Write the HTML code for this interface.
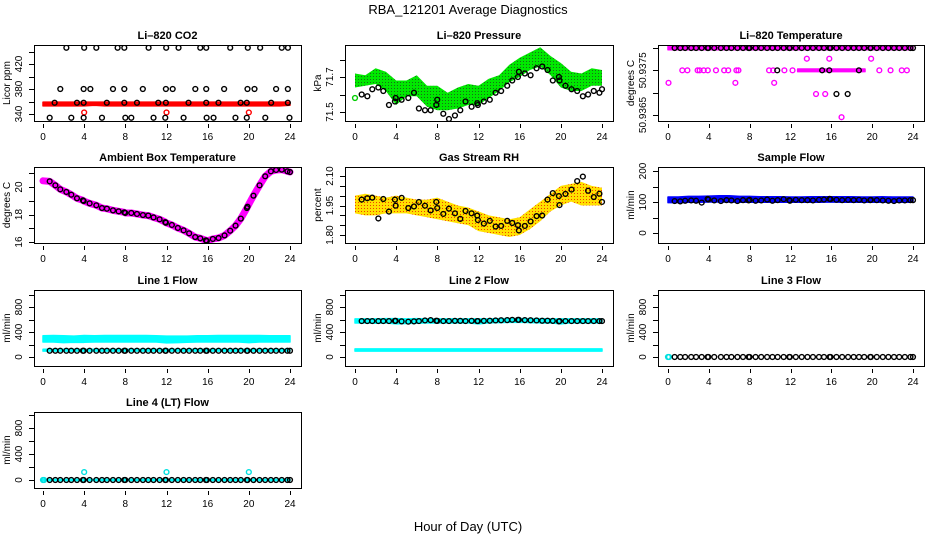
<!DOCTYPE html>
<html><head><meta charset="utf-8"><style>
html,body{margin:0;padding:0;background:#fff;}
svg{display:block;font-family:"Liberation Sans",Arial,sans-serif;}
</style></head><body>
<svg id="chart" width="936" height="540" viewBox="0 0 936 540" xmlns="http://www.w3.org/2000/svg">
<defs>
<pattern id="pGreen" width="3" height="3" patternUnits="userSpaceOnUse"><rect width="3" height="3" fill="#00e800"/><rect x="1" y="1" width="1" height="1" fill="#1a6a1a"/></pattern>
<pattern id="pOrange" width="3" height="3" patternUnits="userSpaceOnUse"><rect width="3" height="3" fill="#ffe000"/><rect x="1" y="1" width="1" height="1" fill="#f04000"/></pattern>
</defs>
<text x="468" y="14" text-anchor="middle" font-size="13">RBA_121201  Average Diagnostics</text>
<text x="468" y="531" text-anchor="middle" font-size="13">Hour of Day (UTC)</text>
</svg>
<script>
// ---- data ----
const hours = [0.65,1.2,1.68,2.27,2.75,3.3,3.88,3.95,4.53,5.18,5.73,6.21,6.8,7.35,7.9,7.99,8.58,9.13,9.71,10.23,10.74,11.33,11.88,11.94,12.52,13.1,13.66,14.2,14.79,15.28,15.83,15.92,16.5,17.06,17.64,18.19,18.71,19.22,19.81,19.87,20.45,21.04,21.59,22.14,22.65,23.2,23.75,24.0];
const bandHours = [0,1,2,3,4,5,6,7,8,9,10,11,12,13,14,15,16,17,18,19,20,21,22,23,24];
const xTicks = [0,4,8,12,16,20,24];

// CO2
const co2Hi = [2.27,4.0,5.18,7.25,7.9,10.26,11.97,13.17,15.28,15.86,18.19,19.9,21.1,23.2,23.8];
const co2HiVal = 446;
const co2Mid = [1.68,3.95,4.6,6.8,7.9,9.7,11.94,12.6,14.8,15.86,17.6,19.87,20.55,22.65,23.79];
const co2MidVal = 380;
const co2Base = [1.13,3.3,3.95,6.2,7.9,9.13,11.2,11.94,14.14,15.86,17.05,19.2,19.8,22.17,23.79];
const co2BaseVal = 358;
const co2Low = [0.65,2.75,3.95,5.73,8.0,8.58,10.74,11.88,13.66,15.9,16.57,18.7,19.8,21.6,23.95];
const co2LowVal = 334;
const co2RedUpper = [359,359,359,359,359,359,359,359,359,359,359,359,359,359,359,359,359,359,359,359,359,359,359,359,359];
const co2RedLower = [353,353,353,353,353,354,353,353,353,353,353,353,353,353,353,353,353,353,353,353,353,353,353,353,354];
const co2RedOutH = [4,12,20];
const co2RedOutV = [342.5,342.5,342.5];

// Pressure
const presUpper = [71.72,71.71,71.75,71.73,71.68,71.68,71.71,71.65,71.65,71.61,71.64,71.66,71.65,71.69,71.71,71.77,71.81,71.84,71.87,71.82,71.78,71.73,71.72,71.75,71.74];
const presLower = [71.64,71.65,71.66,71.62,71.54,71.59,71.59,71.53,71.51,71.51,71.52,71.54,71.54,71.58,71.62,71.67,71.70,71.74,71.76,71.71,71.64,71.62,71.62,71.65,71.65];
const presAvg = [71.60,71.59,71.63,71.64,71.62,71.54,71.56,71.58,71.57,71.58,71.61,71.52,71.51,71.51,71.54,71.57,71.49,71.46,71.48,71.51,71.56,71.53,71.55,71.54,71.56,71.57,71.61,71.62,71.65,71.68,71.70,71.73,71.72,71.71,71.75,71.76,71.74,71.68,71.70,71.68,71.65,71.63,71.62,71.59,71.60,71.62,71.61,71.63];

// Li-820 temperature
const ltTopVal = 50.9380;
const ltMidBandStart = 12.7, ltMidBandEnd = 19.3;
const ltMidVal = 50.9375;
const ltMagMidH = [1.4,1.9,2.9,3.1,3.5,3.9,4.7,5.5,5.9,6.7,6.9,9.9,10.3,11.4,12.2,20.7,21.8,22.9,23.4];
const ltMag722H = [0.05,6.6,10.4];
const ltMag722V = 50.93722;
const ltMag778H = [13.6,15.8,19.9];
const ltMag778V = 50.93776;
const ltMag697H = [14.5,15.4];
const ltMag697V = 50.93697;
const ltMag645H = [17.0];
const ltMag645V = 50.93645;
const ltBlackMidH = [10.7,15.1,15.8,18.7];
const ltBlack697H = [16.5,17.6];

// Ambient
const ambAvg = [20.41,20.12,19.83,19.64,19.44,19.18,19.03,18.98,18.81,18.67,18.47,18.42,18.30,18.23,18.16,18.11,18.11,18.04,17.96,17.92,17.79,17.65,17.45,17.40,17.24,17.02,16.85,16.63,16.36,16.27,16.12,16.07,16.22,16.29,16.48,16.82,17.19,17.70,18.47,18.57,19.37,20.12,20.78,21.14,21.24,21.26,21.14,21.09];
const ambStart = 20.45;

// Gas stream RH
const rhUpper = [2.00,2.01,2.00,1.99,2.00,1.99,1.98,1.98,1.99,1.97,1.95,1.94,1.92,1.90,1.89,1.88,1.89,1.93,1.97,2.01,2.05,2.06,2.07,2.05,2.04];
const rhLower = [1.91,1.90,1.90,1.91,1.91,1.91,1.90,1.89,1.88,1.87,1.86,1.85,1.82,1.81,1.80,1.79,1.80,1.83,1.87,1.92,1.95,1.97,1.95,1.95,1.95];
const rhAvg = [1.98,1.987,1.99,1.884,1.983,1.919,1.98,1.949,1.989,1.937,1.945,1.968,1.949,1.925,1.968,1.937,1.907,1.934,1.91,1.882,1.922,1.91,1.899,1.876,1.858,1.872,1.843,1.846,1.872,1.861,1.85,1.823,1.846,1.869,1.896,1.899,1.98,2.013,1.998,1.952,2.009,2.031,2.074,2.097,2.025,1.993,2.01,1.968];

// Sample flow
const sfUpper = [116,116,118,118,119,120,120,118,118,117,117,117,116,116,117,117,117,117,117,116,116,117,116,116,116];
const sfLower = [98,98,99,99,100,100,100,99,99,99,99,99,99,99,99,99,100,99,99,99,99,99,99,99,99];
const sfAvg = [103,102,104,105,104,98,110,108,105,103,106,105,103,106,105,107,104,105,108,104,106,109,106,104,107,106,106,105,107,108,110,109,107,106,107,106,107,105,106,107,106,105,104,103,105,105,106,106];

// Line flows
const l1CyanUpper = [340,345,340,335,345,340,345,345,345,345,345,340,335,335,335,340,340,345,345,345,345,345,340,340,340];
const l1CyanLower = [240,240,230,235,235,240,240,240,240,240,240,240,225,230,235,240,240,240,240,240,230,240,240,240,240];
const l1CyanLowUpper = [125,125,125,125,125,125,125,125,125,125,125,125,125,125,125,125,125,125,125,125,125,125,125,125,125];
const l1CyanLowLower = [95,95,95,95,95,95,95,95,95,95,95,95,95,95,95,95,95,95,95,95,95,95,95,95,95];
const l1Avg = [100,100,100,100,100,100,100,100,100,100,100,100,100,100,100,100,100,100,100,100,100,100,100,100,100,100,100,100,100,100,100,100,100,100,100,100,100,100,100,100,100,100,100,100,100,100,100,100];
const l2CyanUpper = [610,610,610,615,615,610,615,610,610,610,610,610,610,610,615,615,615,615,615,610,610,610,610,610,610];
const l2CyanLower = [545,545,540,545,530,535,540,545,545,545,545,545,530,545,550,555,555,550,545,545,530,545,545,545,545];
const l2CyanLowUpper = [130,130,130,130,130,130,130,130,130,130,130,130,130,130,130,130,130,130,130,130,130,130,130,130,130];
const l2CyanLowLower = [95,95,95,95,95,95,95,95,95,95,95,95,95,95,95,95,95,95,95,95,95,95,95,95,95];
const l2Avg = [575,575,575,575,575,575,578,578,570,565,570,575,585,590,580,578,575,575,578,578,575,578,575,575,578,580,585,588,590,595,595,595,590,588,585,580,580,578,570,575,575,575,575,575,575,575,575,575];
const l3Avg = [0,0,0,0,0,0,0,0,0,0,0,0,0,0,0,0,0,0,0,0,0,0,0,0,0,0,0,0,0,0,0,0,0,0,0,0,0,0,0,0,0,0,0,0,0,0,0,0];
const l3CyanH = [0,0.1];
const l3CyanV = [0,0];
const l4Avg = [0,0,0,0,0,0,0,0,0,0,0,0,0,0,0,0,0,0,0,0,0,0,0,0,0,0,0,0,0,0,0,0,0,0,0,0,0,0,0,0,0,0,0,0,0,0,0,0];
const l4CyanH = [0,0.1,4,12,20];
const l4CyanV = [0,0,122,122,122];
const l4CyanBandUpper = [10,10,10,10,10,10,10,10,10,10,10,10,10,10,10,10,10,10,10,10,10,10,10,10,10];
const l4CyanBandLower = [-10,-10,-10,-10,-10,-10,-10,-10,-10,-10,-10,-10,-10,-10,-10,-10,-10,-10,-10,-10,-10,-10,-10,-10,-10];

// ---- drawing ----
const NS = "http://www.w3.org/2000/svg";
const svg = document.getElementById('chart');
const cols = [{l:34,r:301,x0:43,x24:290},{l:345,r:613,x0:355,x24:602},{l:658,r:924,x0:668,x24:913}];
const rows = [{t:45,b:121},{t:167,b:243},{t:290,b:366},{t:412,b:488}];

function el(tag, attrs, parent){
  const e = document.createElementNS(NS, tag);
  for (const k in attrs) e.setAttribute(k, attrs[k]);
  (parent||svg).appendChild(e);
  return e;
}

function panel(ci, ri, name, title, ylab, v1, p1, v2, p2, ticks, labels, fmt){
  const c = cols[ci], r = rows[ri];
  const g = el('g', {});
  
  
  const xs = h => c.x0 + (h/24)*(c.x24 - c.x0);
  const ys = v => p1 + (v - v1)*(p2 - p1)/(v2 - v1);
  const clip = el('clipPath', {id:'clip-'+name}, g);
  el('rect', {x:c.l, y:r.t, width:c.r-c.l, height:r.b-r.t}, clip);
  const plot = el('g', {'clip-path':'url(#clip-'+name+')'}, g);
  
  
  const box = el('rect', {x:c.l+0.5, y:r.t+0.5, width:c.r-c.l, height:r.b-r.t, fill:'none', stroke:'#000', 'stroke-width':1}, g);
  
  
  const t = el('text', {x:(c.l+c.r)/2, y:r.t-6, 'text-anchor':'middle', 'font-size':11, 'font-weight':'bold'}, g);
  t.textContent = title;
  
  
  // x axis
  const xa = el('g', {}, g);
  
  
  xTicks.forEach(h => {
    el('line', {x1:Math.round(xs(h))+0.5, x2:Math.round(xs(h))+0.5, y1:r.b+3, y2:r.b+7, stroke:'#000'}, xa);
    const tx = el('text', {x:xs(h), y:r.b+19, 'text-anchor':'middle', 'font-size':10}, xa);
    tx.textContent = String(h);
    
    
  });
  // y axis
  const ya = el('g', {}, g);
  
  
  ticks.forEach(v => {
    const yy = Math.round(ys(v))+0.5;
    el('line', {x1:c.l-5, x2:c.l, y1:yy, y2:yy, stroke:'#000'}, ya);
  });
  labels.forEach(v => {
    const ty = el('text', {x:c.l-12, y:ys(v), 'text-anchor':'middle', 'font-size':10, transform:'rotate(-90 '+(c.l-12)+' '+ys(v)+')'}, ya);
    ty.textContent = fmt(v);
    
    
  });
  const yl = el('text', {x:c.l-24, y:(r.t+r.b)/2, 'text-anchor':'middle', 'font-size':10, transform:'rotate(-90 '+(c.l-24)+' '+((r.t+r.b)/2)+')'}, g);
  yl.textContent = ylab;
  
  
  return {xs, ys, plot};
}

function band(p, hs, up, lo, fill, name){
  let pts = hs.map((h,i) => p.xs(h)+','+p.ys(up[i]));
  for (let i = hs.length-1; i >= 0; i--) pts.push(p.xs(hs[i])+','+p.ys(lo[i]));
  const b = el('polygon', {points:pts.join(' '), fill:fill, stroke:fill.startsWith('url')?'none':fill, 'stroke-width':1.5, 'stroke-linejoin':'round'}, p.plot);
  
  
  return b;
}
function pts(p, hs, vals, color, name){
  hs.forEach((h,i) => {
    const v = Array.isArray(vals) ? vals[i] : vals;
    const cc = el('circle', {cx:p.xs(h), cy:p.ys(v), r:2.4, fill:'none', stroke:color, 'stroke-width':1.4}, p.plot);
    
    
  });
}
const f0 = v => String(Math.round(v));

// Li-820 CO2
const pc = panel(0,0,'co2','Li\u2013820 CO2','Licor ppm',340,114,420,64,[340,360,380,400,420,440],[340,380,420],f0);
band(pc, bandHours, co2RedUpper, co2RedLower, '#ff0000', 'co2-raw-band');
pts(pc, co2RedOutH, co2RedOutV, '#ff0000', 'co2-raw-outlier');
pts(pc, co2Hi, co2HiVal, '#000', 'co2-average-point');
pts(pc, co2Mid, co2MidVal, '#000', 'co2-average-point');
pts(pc, co2Base, co2BaseVal, '#000', 'co2-average-point');
pts(pc, co2Low, co2LowVal, '#000', 'co2-average-point');

// Pressure
const pp = panel(1,0,'pressure','Li\u2013820 Pressure','kPa',71.5,112,71.7,77,[71.5,71.6,71.7,71.8],[71.5,71.7],v=>v.toFixed(1));
band(pp, bandHours, presUpper, presLower, 'url(#pGreen)', 'pressure-raw-band');
pts(pp, [0], [71.58], '#00cc00', 'pressure-raw-point');
pts(pp, hours, presAvg, '#000', 'pressure-average-point');

// Li-820 temperature
const pt = panel(2,0,'li820-temp','Li\u2013820 Temperature','degrees C',50.9365,115,50.9380,48,[50.9365,50.937,50.9375,50.938],[50.9365,50.9375],v=>v.toFixed(4));
band(pt, [0,24], [ltTopVal+0.00004,ltTopVal+0.00004], [ltTopVal-0.00004,ltTopVal-0.00004], '#ff00ff', 'li820-temp-raw-band');
band(pt, [ltMidBandStart,ltMidBandEnd], [ltMidVal+0.00003,ltMidVal+0.00003], [ltMidVal-0.00003,ltMidVal-0.00003], '#ff00ff', 'li820-temp-raw-band');
pts(pt, ltMagMidH, ltMidVal, '#ff00ff', 'li820-temp-raw-point');
pts(pt, ltMag722H, ltMag722V, '#ff00ff', 'li820-temp-raw-point');
pts(pt, ltMag778H, ltMag778V, '#ff00ff', 'li820-temp-raw-point');
pts(pt, ltMag697H, ltMag697V, '#ff00ff', 'li820-temp-raw-point');
pts(pt, ltMag645H, ltMag645V, '#ff00ff', 'li820-temp-raw-point');
pts(pt, hours, ltTopVal, '#000', 'li820-temp-average-point');
pts(pt, ltBlackMidH, ltMidVal, '#000', 'li820-temp-average-point');
pts(pt, ltBlack697H, ltMag697V, '#000', 'li820-temp-average-point');

// Ambient
const pa = panel(0,1,'ambient-temp','Ambient Box Temperature','degrees C',16,242,20,187,[16,17,18,19,20,21],[16,18,20],f0);
const ambPts = [pa.xs(0)+','+pa.ys(ambStart)].concat(hours.map((h,i)=>pa.xs(h)+','+pa.ys(ambAvg[i])));
const aline = el('polyline', {points:ambPts.join(' '), fill:'none', stroke:'#ff00ff', 'stroke-width':7, 'stroke-linecap':'round', 'stroke-linejoin':'round'}, pa.plot);


pts(pa, hours, ambAvg, '#000', 'ambient-temp-average-point');

// RH
const pr = panel(1,1,'gas-rh','Gas Stream RH','percent',1.80,235,2.10,176,[1.80,1.85,1.90,1.95,2.00,2.05,2.10],[1.80,1.95,2.10],v=>v.toFixed(2));
band(pr, bandHours, rhUpper, rhLower, 'url(#pOrange)', 'gas-rh-raw-band');
pts(pr, hours, rhAvg, '#000', 'gas-rh-average-point');

// Sample flow
const ps = panel(2,1,'sample-flow','Sample Flow','ml/min',0,233,200,171,[0,50,100,150,200],[0,100,200],f0);
band(ps, bandHours, sfUpper, sfLower, '#0000ff', 'sample-flow-raw-band');
pts(ps, hours, sfAvg, '#000', 'sample-flow-average-point');

const flowTicks = [0,200,400,600,800,1000], flowLabels = [0,400,800];
// Line 1
const p1 = panel(0,2,'line1-flow','Line 1 Flow','ml/min',0,357,800,307,flowTicks,flowLabels,f0);
band(p1, bandHours, l1CyanUpper, l1CyanLower, '#00ffff', 'line1-flow-raw-band');
band(p1, bandHours, l1CyanLowUpper, l1CyanLowLower, '#00ffff', 'line1-flow-raw-band-low');
pts(p1, hours, l1Avg, '#000', 'line1-flow-average-point');
// Line 2
const p2 = panel(1,2,'line2-flow','Line 2 Flow','ml/min',0,357,800,307,flowTicks,flowLabels,f0);
band(p2, bandHours, l2CyanUpper, l2CyanLower, '#00ffff', 'line2-flow-raw-band');
band(p2, bandHours, l2CyanLowUpper, l2CyanLowLower, '#00ffff', 'line2-flow-raw-band-low');
pts(p2, hours, l2Avg, '#000', 'line2-flow-average-point');
// Line 3
const p3 = panel(2,2,'line3-flow','Line 3 Flow','ml/min',0,357,800,307,flowTicks,flowLabels,f0);
pts(p3, l3CyanH, l3CyanV, '#00e0e0', 'line3-flow-raw-point');
pts(p3, hours, l3Avg, '#000', 'line3-flow-average-point');
// Line 4
const p4 = panel(0,3,'line4-flow','Line 4 (LT) Flow','ml/min',0,480,800,428,flowTicks,flowLabels,f0);
band(p4, bandHours, l4CyanBandUpper, l4CyanBandLower, '#00ffff', 'line4-flow-raw-band');
pts(p4, l4CyanH, l4CyanV, '#00e0e0', 'line4-flow-raw-point');
pts(p4, hours, l4Avg, '#000', 'line4-flow-average-point');
</script>
</body></html>
